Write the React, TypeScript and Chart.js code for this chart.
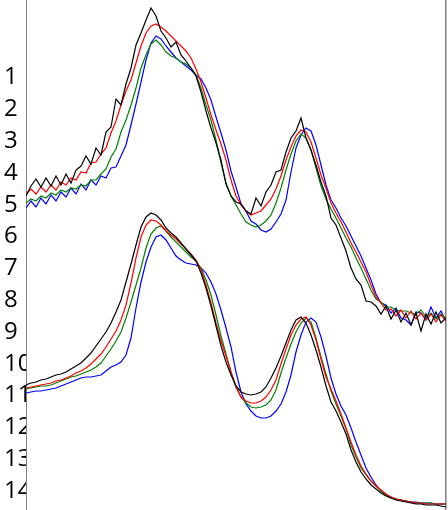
import React, {useEffect, useRef} from "react";
import Chart from 'chart.js/auto';

// sampling positions along the horizontal axis (channel)
const channels = [
    0, 5, 10, 15, 20, 25, 30, 35, 40, 45,
    50, 55, 60, 65, 70, 75, 80, 85, 90, 95,
    100, 105, 110, 115, 120, 125, 130, 135, 140, 145,
    150, 155, 160, 165, 170, 175, 180, 185, 190, 195,
    200, 205, 210, 215, 220, 225, 230, 235, 240, 245,
    250, 255, 260, 265, 270, 275, 280, 285, 290, 295,
    300, 305, 310, 315, 320, 325, 330, 335, 340, 345,
    350, 355, 360, 365, 370, 375, 380, 385, 390, 395,
    400, 405, 410, 415, 420,
]

// tick labels on the left axis
const tickLabels = [1, 2, 3, 4, 5, 6, 7, 8, 9, 10, 11, 12, 13, 14]

// upper (noisy) set, offset signal, downward
const upperBlack = [
    196, 186, 179, 187, 178, 186, 176, 185, 174, 183,
    170, 166, 156, 164, 148, 155, 132, 127, 99, 105,
    84, 68, 45, 33, 20, 8, 16, 31, 38, 47,
    42, 55, 61, 68, 76, 92, 111, 128, 143, 160,
    184, 196, 202, 204, 211, 214, 198, 206, 192, 185,
    172, 170, 152, 138, 131, 118, 138, 150, 165, 182,
    196, 218, 225, 238, 251, 268, 279, 285, 301, 302,
    306, 314, 306, 319, 310, 322, 313, 325, 313, 331,
    314, 324, 312, 323, 318,
]
const upperRed = [
    194, 189, 194, 187, 192, 185, 190, 182, 185, 178,
    180, 172, 173, 163, 162, 154, 148, 133, 121, 105,
    91, 80, 63, 46, 33, 26, 24, 27, 31, 36,
    41, 46, 51, 58, 69, 82, 98, 115, 130, 144,
    160, 180, 196, 205, 211, 215, 213, 211, 205, 199,
    189, 176, 160, 147, 136, 130, 132, 142, 158, 175,
    188, 203, 213, 222, 232, 243, 252, 262, 272, 285,
    297, 303, 310, 309, 316, 310, 318, 311, 319, 313,
    320, 314, 322, 315, 321,
]
const upperGreen = [
    203, 199, 201, 196, 198, 193, 195, 190, 192, 188,
    189, 185, 186, 180, 180, 174, 169, 157, 149, 132,
    120, 105, 88, 68, 55, 44, 40, 45, 52, 56,
    58, 62, 64, 68, 75, 88, 105, 120, 140, 163,
    183, 196, 205, 214, 222, 225, 227, 225, 221, 215,
    203, 188, 170, 154, 141, 134, 138, 150, 168, 186,
    199, 209, 218, 228, 238, 247, 258, 268, 279, 290,
    299, 302, 307, 307, 310, 311, 311, 313, 314, 310,
    317, 313, 319, 314, 318,
]
const upperBlue = [
    208, 201, 207, 198, 204, 195, 201, 192, 197, 188,
    194, 184, 190, 180, 185, 176, 178, 168, 167, 156,
    145, 125, 104, 82, 60, 43, 36, 39, 46, 52,
    58, 62, 66, 70, 75, 79, 88, 100, 117, 133,
    150, 171, 187, 204, 211, 221, 224, 230, 232, 229,
    222, 214, 200, 172, 148, 135, 128, 131, 145, 165,
    185, 200, 208, 218, 226, 236, 246, 256, 268, 280,
    294, 303, 305, 313, 308, 318, 320, 325, 312, 313,
    320, 307, 318, 311, 321,
]

// lower (smooth) set
const lowerBlack = [
    385, 383, 382, 380, 379, 377, 375, 374, 372, 369,
    366, 363, 358, 353, 346, 339, 332, 323, 312, 300,
    282, 264, 245, 227, 217, 213, 215, 220, 228, 233,
    237, 243, 249, 255, 261, 273, 288, 306, 326, 346,
    362, 375, 386, 392, 394, 395, 394, 392, 387, 378,
    368, 356, 343, 330, 320, 317, 323, 335, 350, 367,
    386, 402, 411, 422, 434, 450, 462, 472, 479, 485,
    489, 493, 496, 498, 500, 501, 502, 503, 504, 504,
    505, 505, 505, 506, 507,
]
const lowerRed = [
    388, 387, 386, 385, 384, 383, 381, 380, 378, 376,
    373, 371, 368, 364, 359, 354, 347, 339, 331, 320,
    305, 283, 258, 237, 225, 220, 221, 225, 231, 235,
    239, 244, 249, 254, 260, 270, 285, 303, 323, 341,
    356, 372, 387, 397, 401, 403, 403, 401, 397, 390,
    380, 364, 349, 335, 325, 319, 317, 325, 340, 359,
    377, 389, 401, 414, 428, 442, 455, 466, 474, 481,
    486, 490, 494, 497, 499, 500, 501, 502, 503, 503,
    504, 504, 504, 504, 504,
]
const lowerGreen = [
    389, 388, 387, 386, 386, 385, 383, 381, 379, 377,
    376, 374, 372, 370, 367, 363, 356, 349, 341, 332,
    318, 302, 285, 268, 248, 234, 228, 226, 231, 237,
    242, 247, 252, 257, 261, 268, 280, 295, 315, 336,
    354, 372, 387, 397, 403, 407, 408, 407, 405, 400,
    390, 373, 358, 344, 332, 323, 318, 322, 338, 357,
    374, 391, 404, 416, 429, 445, 457, 468, 475, 481,
    486, 491, 495, 498, 499, 500, 501, 502, 503, 503,
    503, 503, 504, 504, 504,
]
const lowerBlue = [
    393, 392, 391, 391, 390, 389, 388, 386, 384, 382,
    380, 378, 377, 377, 376, 375, 371, 367, 365, 362,
    355, 338, 308, 282, 262, 247, 237, 235, 240, 248,
    256, 260, 263, 264, 265, 268, 273, 282, 294, 310,
    328, 347, 372, 392, 404, 411, 416, 418, 418, 416,
    411, 404, 392, 375, 352, 335, 322, 318, 322, 337,
    356, 378, 394, 406, 415, 428, 442, 455, 468, 477,
    485, 491, 495, 497, 499, 500, 501, 502, 502, 503,
    503, 503, 504, 504, 504,
]

const series = [
    {name: 'upper black', values: upperBlack, color: '#000000'},
    {name: 'upper red', values: upperRed, color: '#ff0000'},
    {name: 'upper green', values: upperGreen, color: '#008000'},
    {name: 'upper blue', values: upperBlue, color: '#0000ff'},
    {name: 'lower black', values: lowerBlack, color: '#000000'},
    {name: 'lower red', values: lowerRed, color: '#ff0000'},
    {name: 'lower green', values: lowerGreen, color: '#008000'},
    {name: 'lower blue', values: lowerBlue, color: '#0000ff'},
]

const App = () => {
    const canvasRef = useRef<HTMLCanvasElement>(null)

    useEffect(() => {
        const ctx = canvasRef.current?.getContext('2d') as CanvasRenderingContext2D

        const data = {
            datasets: series.map((s) => ({
                label: s.name,
                data: channels.map((c, i) => ({x: c, y: s.values[i]})),
                borderColor: s.color,
                backgroundColor: s.color,
                borderWidth: 1.2,
                pointRadius: 0,
                tension: 0,
                xAxisID: 'x',
                yAxisID: 'signal',
            })),
        }

        const config = {
            type: 'line',
            data: data,
            options: {
                animation: false,
                responsive: true,
                maintainAspectRatio: false,
                layout: {padding: {left: 4, right: 2, top: 0, bottom: 0}},
                plugins: {
                    legend: {display: false},
                    tooltip: {enabled: false},
                },
                scales: {
                    x: {type: 'linear', display: false, min: 0, max: 420},
                    signal: {type: 'linear', display: false, reverse: true, min: 0, max: 510},
                    y: {
                        type: 'linear',
                        position: 'left',
                        reverse: true,
                        min: -1.436,
                        max: 14.597,
                        afterBuildTicks: (scale: any) => {
                            scale.ticks = tickLabels.map((v) => ({value: v}))
                        },
                        afterFit: (scale: any) => {
                            scale.width = 22
                            scale.paddingTop = 0
                            scale.paddingBottom = 0
                        },
                        grid: {display: false, drawTicks: false},
                        border: {display: true, color: '#808080', width: 1},
                        ticks: {
                            autoSkip: false,
                            crossAlign: 'far',
                            padding: 0,
                            color: '#000000',
                            font: {family: '"Open Sans"', size: 24},
                        },
                    },
                    edge: {
                        type: 'linear',
                        position: 'right',
                        min: 0,
                        max: 1,
                        afterFit: (scale: any) => {
                            scale.width = 0
                            scale.paddingTop = 0
                            scale.paddingBottom = 0
                        },
                        grid: {display: false, drawTicks: false},
                        border: {display: true, color: '#808080', width: 1.5},
                        ticks: {display: false},
                    },
                },
            },
        }

        // @ts-ignore
        const chart = new Chart(ctx, config)

        return () => {chart.destroy()}
    }, [])

    return (
        <div style={{position: 'absolute', left: 0, top: 0, width: '448px', height: '510px'}}>
            <canvas ref={canvasRef}></canvas>
        </div>
    )
}

export default App
